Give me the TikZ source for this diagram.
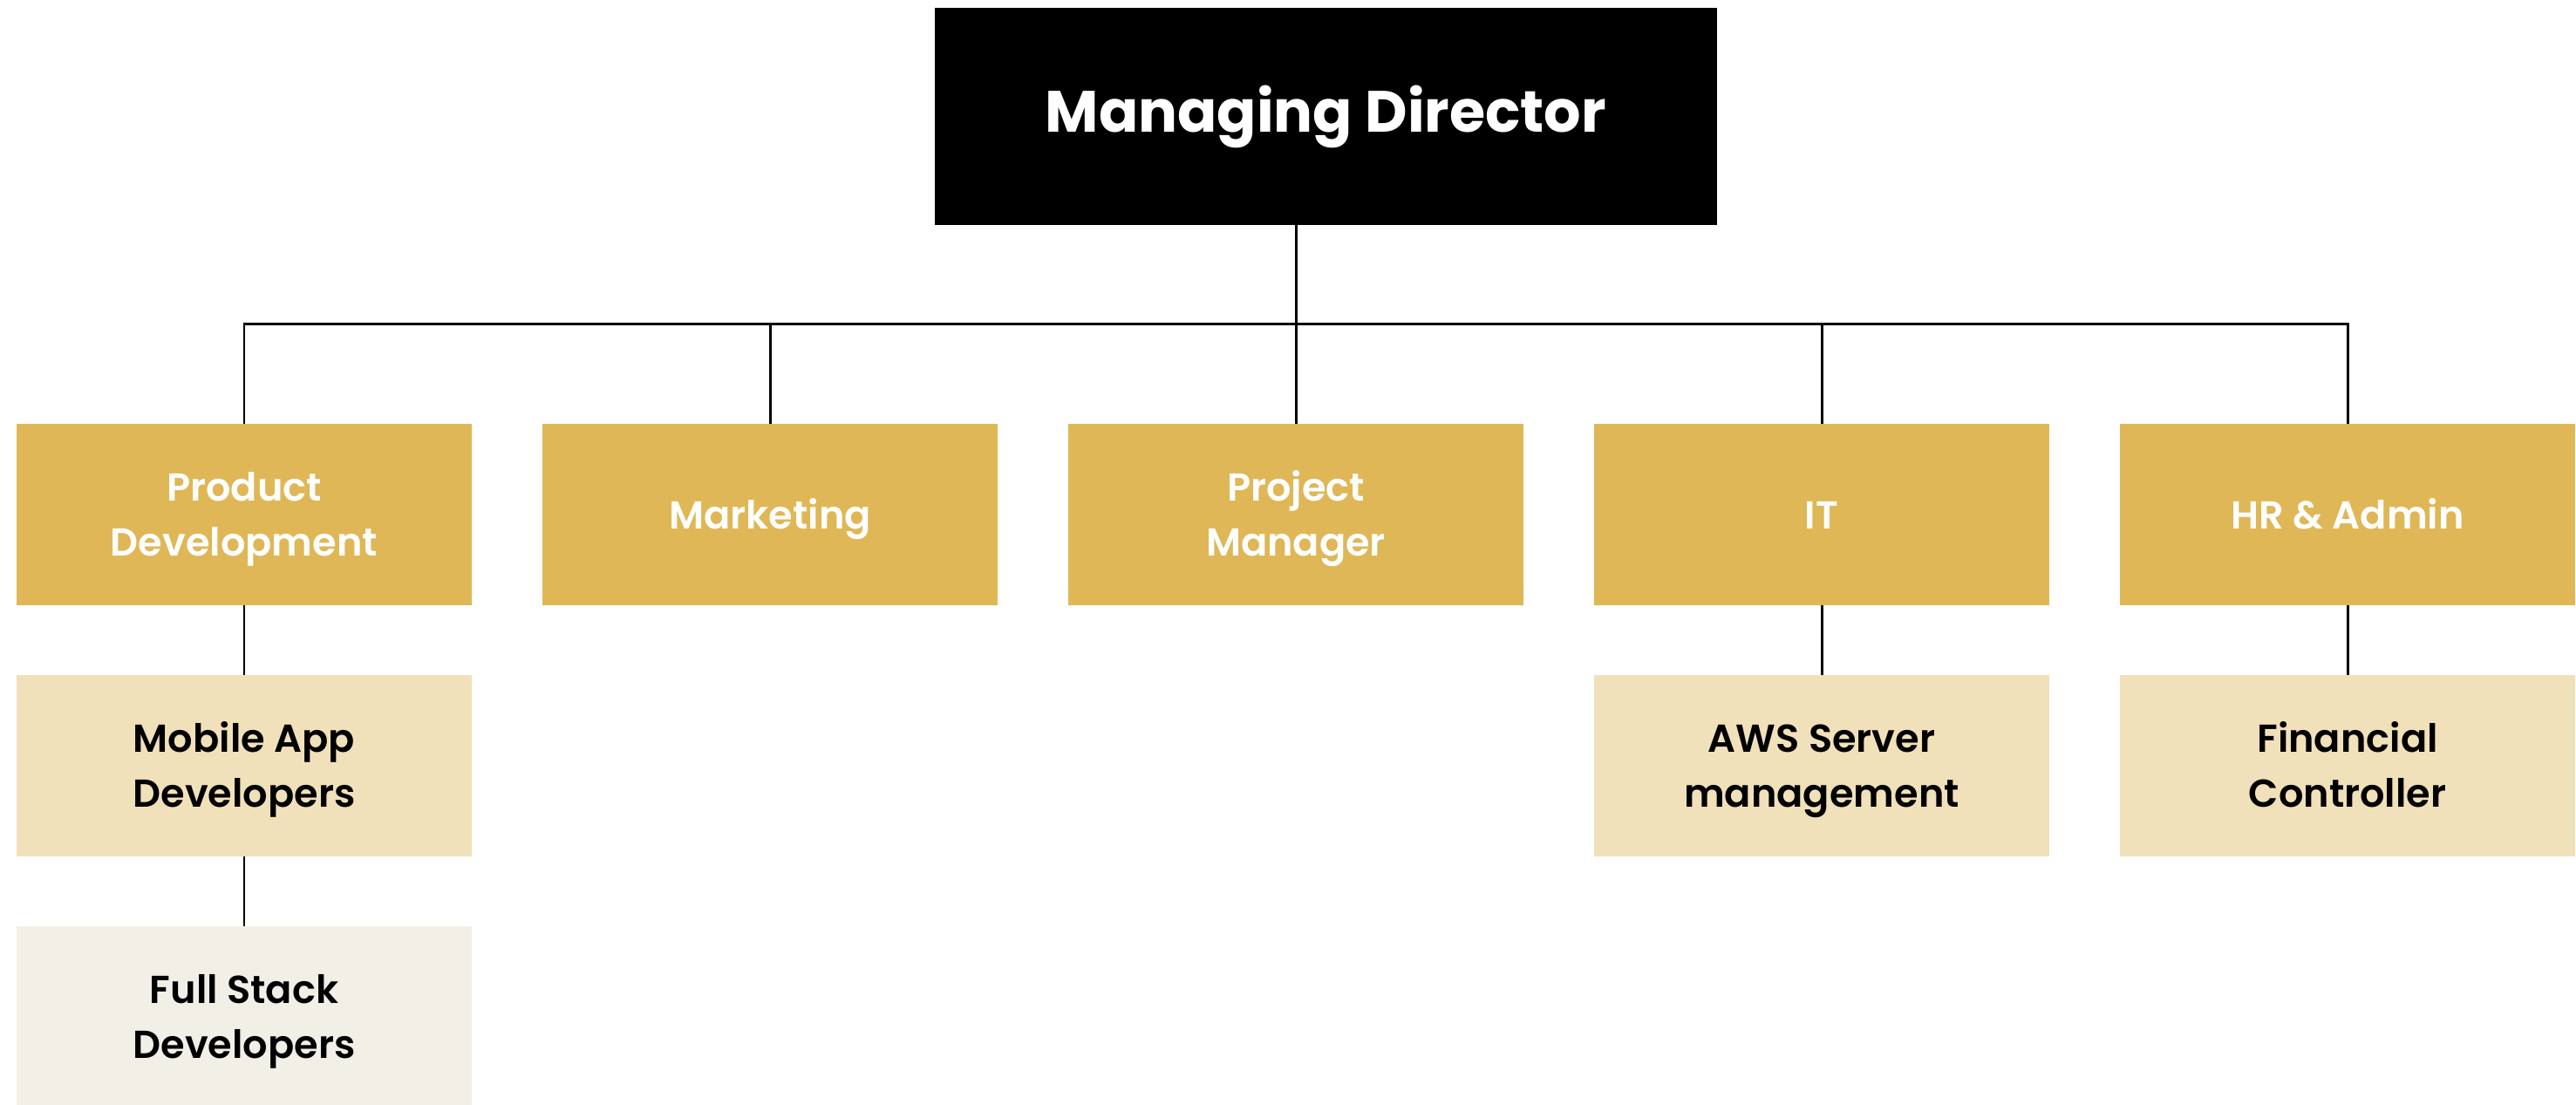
\documentclass[tikz,border=0pt]{standalone}
\usepackage{fontspec}
\setmainfont{Poppins}[BoldFont={Poppins SemiBold}]
\newfontfamily\headfont{Poppins Bold}
\usepackage{xcolor}
\usepackage{tikz}
\usetikzlibrary{positioning}

\definecolor{gold}{HTML}{DFB756}
\definecolor{sand}{HTML}{F1E1BA}
\definecolor{cream}{HTML}{F2EFE6}

% same line box for every first line
\newcommand{\firstrow}{\rule{0pt}{12.7pt}}

\begin{document}
\begin{tikzpicture}[-,semithick,line width=0.85pt,
            node distance=0.81cm and 0.81cm]
        \tikzstyle{box}=[rectangle,inner sep=0pt,outer sep=0pt,align=center,
            minimum width=5.22cm,minimum height=2.08cm,
            execute at end node={\vphantom{g}},
            font=\fontsize{12.7}{18}\selectfont\bfseries]
        \tikzstyle{dept}=[box,fill=gold,text=white]
        \tikzstyle{team}=[box,fill=sand,text=black]
        \tikzstyle{staff}=[box,fill=cream,text=black]

        \useasboundingbox (0,0) rectangle (29.54,-12.66);

        \node[rectangle,fill=black,text=white,outer sep=0pt,minimum width=8.97cm,
            minimum height=2.49cm,font=\fontsize{19}{22}\headfont]
            (MD) at (15.205,-1.335) {Managing Director};

        \node[dept,anchor=north west] (PD) at (0.19,-4.86) {\firstrow Product\\Development};
        \node[dept] (MK) [right=of PD] {\firstrow Marketing};
        \node[dept] (PM) [right=of MK] {\firstrow Project\\Manager};
        \node[dept] (IT) [right=of PM] {\firstrow IT};
        \node[dept] (HR) [right=of IT] {\firstrow HR \& Admin};

        \node[team] (MA) [below=0.8cm of PD] {\firstrow Mobile App\\Developers};
        \node[staff] (FS) [below=0.8cm of MA] {\firstrow Full Stack\\Developers};
        \node[team] (AWS) [below=0.8cm of IT] {\firstrow AWS Server\\management};
        \node[team] (FC) [below=0.8cm of HR] {\firstrow Financial\\Controller};

        \coordinate (bus) at (0,-3.71);

        \draw (MD.south -| PM.north) -- (PM.north);
        \draw (PD.north) -- (PD.north |- bus) -- (HR.north |- bus) -- (HR.north);
        \draw (MK.north) -- (MK.north |- bus);
        \draw (IT.north) -- (IT.north |- bus);

        \path (PD) edge (MA);
        \path (MA) edge (FS);
        \path (IT) edge (AWS);
        \path (HR) edge (FC);
    \end{tikzpicture}
\end{document}
